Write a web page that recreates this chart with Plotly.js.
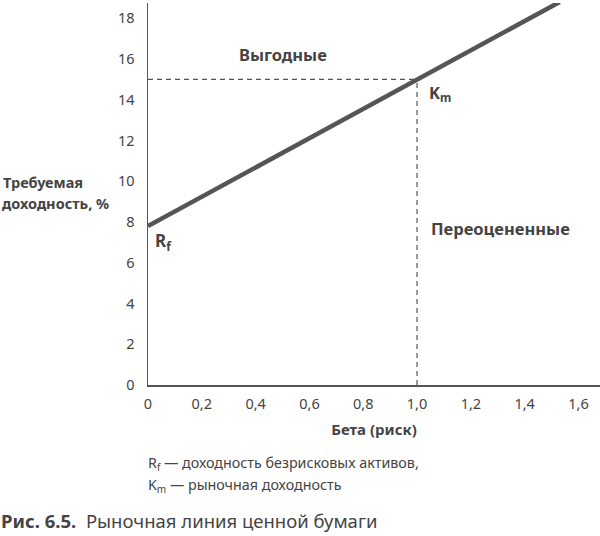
<!DOCTYPE html>
<html>
<head>
<meta charset="utf-8">
<script src="https://cdn.plot.ly/plotly-3.0.1.min.js"></script>
<style>
  html, body { margin: 0; padding: 0; background: #fff; }
  #chart { width: 600px; height: 536px; }
</style>
</head>
<body>
<div id="chart"></div>
<script>
// Security market line data
const betaValues = [0, 1, 1.53];
const returnValues = [7.8, 15, 18.8];
const rfPoint = { beta: 0, ret: 7.8 };
const kmPoint = { beta: 1, ret: 15 };

const xTickVals = [0, 0.2, 0.4, 0.6, 0.8, 1.0, 1.2, 1.4, 1.6];
const xTickText = ['0', '0,2', '0,4', '0,6', '0,8', '1,0', '1,2', '1,4', '1,6'];
const yTickVals = [0, 2, 4, 6, 8, 10, 12, 14, 16, 18];
const yTickText = ['0', '2', '4', '6', '8', '10', '12', '14', '16', '18'];

const FONT = 'Noto Sans, Open Sans, sans-serif';
const GRAY = '#555555';
const TXT = '#444444';

const traces = [
  {
    x: [0, kmPoint.beta], y: [kmPoint.ret, kmPoint.ret],
    mode: 'lines', line: { color: GRAY, width: 1.2, dash: '5px,4px' },
    hoverinfo: 'skip', showlegend: false
  },
  {
    x: [kmPoint.beta, kmPoint.beta], y: [0, kmPoint.ret],
    mode: 'lines', line: { color: GRAY, width: 1.2, dash: '5px,4px' },
    hoverinfo: 'skip', showlegend: false
  },
  {
    x: betaValues, y: returnValues,
    mode: 'lines', line: { color: GRAY, width: 4.5 },
    cliponaxis: false, showlegend: false
  }
];

const layout = {
  width: 600, height: 536,
  margin: { l: 148, r: 0, t: 3, b: 151 },
  paper_bgcolor: '#ffffff', plot_bgcolor: '#ffffff',
  font: { family: FONT, color: TXT, size: 14 },
  showlegend: false,
  xaxis: {
    range: [0, 1.68], tickvals: xTickVals, ticktext: xTickText,
    showgrid: false, zeroline: false, showline: true,
    linecolor: GRAY, linewidth: 1.5, ticks: '', ticklabelstandoff: 5,
    tickfont: { size: 14.5, color: TXT, family: FONT },
    title: { text: '<b>Бета (риск)</b>', font: { size: 15, color: TXT, family: FONT }, standoff: 12 },
    fixedrange: true
  },
  yaxis: {
    range: [0, 18.75], tickvals: yTickVals, ticktext: yTickText,
    showgrid: false, zeroline: false, showline: true,
    linecolor: GRAY, linewidth: 1.5, ticks: '', ticklabelstandoff: 9,
    tickfont: { size: 14.5, color: TXT, family: FONT },
    fixedrange: true
  },
  annotations: [
    { xref: 'paper', yref: 'paper', x: -0.325, y: (385 - 182) / 382, xanchor: 'left', yanchor: 'middle',
      align: 'left', showarrow: false,
      text: '<b>Требуемая</b>', font: { size: 14.5, color: TXT, family: FONT } },
    { xref: 'paper', yref: 'paper', x: -0.327, y: (385 - 203) / 382, xanchor: 'left', yanchor: 'middle',
      align: 'left', showarrow: false,
      text: '<b>доходность, %</b>', font: { size: 14.5, color: TXT, family: FONT } },
    { x: 0.5, y: 16.2, xanchor: 'center', yanchor: 'middle', showarrow: false,
      text: '<b>Выгодные</b>', font: { size: 16.5, color: TXT, family: FONT } },
    { x: 1.045, y: 7.7, xanchor: 'left', yanchor: 'middle', showarrow: false,
      text: '<b>Переоцененные</b>', font: { size: 16.5, color: TXT, family: FONT } },
    { x: kmPoint.beta + 0.038, y: kmPoint.ret - 0.65, xanchor: 'left', yanchor: 'middle', showarrow: false,
      text: '<b>K<sub>m</sub></b>', font: { size: 16.5, color: TXT, family: FONT } },
    { x: rfPoint.beta + 0.02, y: rfPoint.ret - 0.75, xanchor: 'left', yanchor: 'middle', showarrow: false,
      text: '<b>R<sub>f</sub></b>', font: { size: 17, color: TXT, family: FONT } },
    { xref: 'paper', yref: 'paper', x: -0.005, y: (385 - 463) / 382, xanchor: 'left', yanchor: 'middle',
      align: 'left', showarrow: false,
      text: 'R<sub>f</sub> — доходность безрисковых активов,', font: { size: 14.3, color: TXT, family: FONT } },
    { xref: 'paper', yref: 'paper', x: -0.005, y: (385 - 485) / 382, xanchor: 'left', yanchor: 'middle',
      align: 'left', showarrow: false,
      text: 'K<sub>m</sub> — рыночная доходность', font: { size: 14.3, color: TXT, family: FONT } },
    { xref: 'paper', yref: 'paper', x: -0.329, y: (385 - 520) / 382, xanchor: 'left', yanchor: 'middle',
      align: 'left', showarrow: false,
      text: '<b>Рис. 6.5.</b>  Рыночная линия ценной бумаги', font: { size: 18.5, color: TXT, family: FONT } }
  ]
};

Plotly.newPlot('chart', traces, layout, { displayModeBar: false, staticPlot: true });
</script>
</body>
</html>
